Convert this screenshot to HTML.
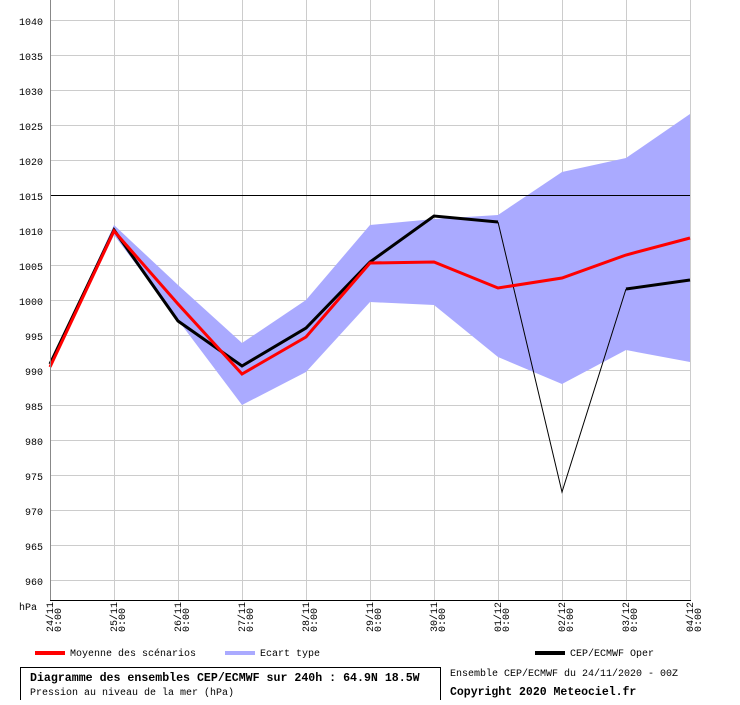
<!DOCTYPE html>
<html><head><style>
body{margin:0;background:#fff;width:740px;height:700px;overflow:hidden}
svg text{font-family:"Liberation Mono","DejaVu Sans Mono",monospace;font-size:10px;fill:#000}
</style></head><body>
<svg width="740" height="700" xmlns="http://www.w3.org/2000/svg">
<g stroke="#ccc" stroke-width="1">
<line x1="50" y1="20.5" x2="690" y2="20.5"/><line x1="50" y1="55.5" x2="690" y2="55.5"/><line x1="50" y1="90.5" x2="690" y2="90.5"/><line x1="50" y1="125.5" x2="690" y2="125.5"/><line x1="50" y1="160.5" x2="690" y2="160.5"/><line x1="50" y1="230.5" x2="690" y2="230.5"/><line x1="50" y1="265.5" x2="690" y2="265.5"/><line x1="50" y1="300.5" x2="690" y2="300.5"/><line x1="50" y1="335.5" x2="690" y2="335.5"/><line x1="50" y1="370.5" x2="690" y2="370.5"/><line x1="50" y1="405.5" x2="690" y2="405.5"/><line x1="50" y1="440.5" x2="690" y2="440.5"/><line x1="50" y1="475.5" x2="690" y2="475.5"/><line x1="50" y1="510.5" x2="690" y2="510.5"/><line x1="50" y1="545.5" x2="690" y2="545.5"/><line x1="50" y1="580.5" x2="690" y2="580.5"/>
<line x1="114.5" y1="0" x2="114.5" y2="600"/><line x1="178.5" y1="0" x2="178.5" y2="600"/><line x1="242.5" y1="0" x2="242.5" y2="600"/><line x1="306.5" y1="0" x2="306.5" y2="600"/><line x1="370.5" y1="0" x2="370.5" y2="600"/><line x1="434.5" y1="0" x2="434.5" y2="600"/><line x1="498.5" y1="0" x2="498.5" y2="600"/><line x1="562.5" y1="0" x2="562.5" y2="600"/><line x1="626.5" y1="0" x2="626.5" y2="600"/><line x1="690.5" y1="0" x2="690.5" y2="600"/>
</g>
<polygon fill="#aaaaff" points="50,364 114,225 178,285 242,343 306,300 370,225 434,219 498,215 562,172 626,158 690,114 690,362 626,350 562,384 498,357 434,305 370,302 306,372 242,405 178,320 114,235 50,368"/>
<line x1="50" y1="195.5" x2="690" y2="195.5" stroke="#000"/>
<polyline fill="none" stroke="#000" stroke-width="1" points="498,222 562,492 626,289"/>
<polyline fill="none" stroke="#000" stroke-width="3" points="50,364 114,230 178,321 242,366 306,328 370,262 434,216 498,222"/>
<polyline fill="none" stroke="#000" stroke-width="3" points="626,289 690,280"/>
<polyline fill="none" stroke="#f00" stroke-width="3" points="50,367 114,231 178,304 242,374 306,337 370,263 434,262 498,288 562,278 626,255 690,238"/>
<line x1="50.5" y1="0" x2="50.5" y2="600" stroke="#888"/>
<line x1="50" y1="600.5" x2="691" y2="600.5" stroke="#000"/>
<g text-anchor="end">
<text x="43" y="25">1040</text><text x="43" y="60">1035</text><text x="43" y="95">1030</text><text x="43" y="130">1025</text><text x="43" y="165">1020</text><text x="43" y="200">1015</text><text x="43" y="235">1010</text><text x="43" y="270">1005</text><text x="43" y="305">1000</text><text x="43" y="340">995</text><text x="43" y="375">990</text><text x="43" y="410">985</text><text x="43" y="445">980</text><text x="43" y="480">975</text><text x="43" y="515">970</text><text x="43" y="550">965</text><text x="43" y="585">960</text>
</g>
<text x="19" y="610">hPa</text>
<g>
<text transform="translate(53,632) rotate(-90)">24/11</text><text transform="translate(61,632) rotate(-90)">0:00</text>
<text transform="translate(117,632) rotate(-90)">25/11</text><text transform="translate(125,632) rotate(-90)">0:00</text>
<text transform="translate(181,632) rotate(-90)">26/11</text><text transform="translate(189,632) rotate(-90)">0:00</text>
<text transform="translate(245,632) rotate(-90)">27/11</text><text transform="translate(253,632) rotate(-90)">0:00</text>
<text transform="translate(309,632) rotate(-90)">28/11</text><text transform="translate(317,632) rotate(-90)">0:00</text>
<text transform="translate(373,632) rotate(-90)">29/11</text><text transform="translate(381,632) rotate(-90)">0:00</text>
<text transform="translate(437,632) rotate(-90)">30/11</text><text transform="translate(445,632) rotate(-90)">0:00</text>
<text transform="translate(501,632) rotate(-90)">01/12</text><text transform="translate(509,632) rotate(-90)">0:00</text>
<text transform="translate(565,632) rotate(-90)">02/12</text><text transform="translate(573,632) rotate(-90)">0:00</text>
<text transform="translate(629,632) rotate(-90)">03/12</text><text transform="translate(637,632) rotate(-90)">0:00</text>
<text transform="translate(693,632) rotate(-90)">04/12</text><text transform="translate(701,632) rotate(-90)">0:00</text>
</g>
<rect x="35" y="651" width="30" height="4" fill="#f00"/><text x="70" y="656">Moyenne des scénarios</text>
<rect x="225" y="651" width="30" height="4" fill="#aaaaff"/><text x="260" y="656">Ecart type</text>
<rect x="535" y="651" width="30" height="4" fill="#000"/><text x="570" y="656">CEP/ECMWF Oper</text>
<rect x="20.5" y="667.5" width="420" height="34" fill="none" stroke="#000"/>
<text x="30" y="681" font-weight="bold" style="font-size:11.6px">Diagramme des ensembles CEP/ECMWF sur 240h : 64.9N 18.5W</text>
<text x="30" y="695">Pression au niveau de la mer (hPa)</text>
<text x="450" y="676">Ensemble CEP/ECMWF du 24/11/2020 - 00Z</text>
<text x="450" y="695" font-weight="bold" style="font-size:11.5px">Copyright 2020 Meteociel.fr</text>
</svg>
</body></html>
